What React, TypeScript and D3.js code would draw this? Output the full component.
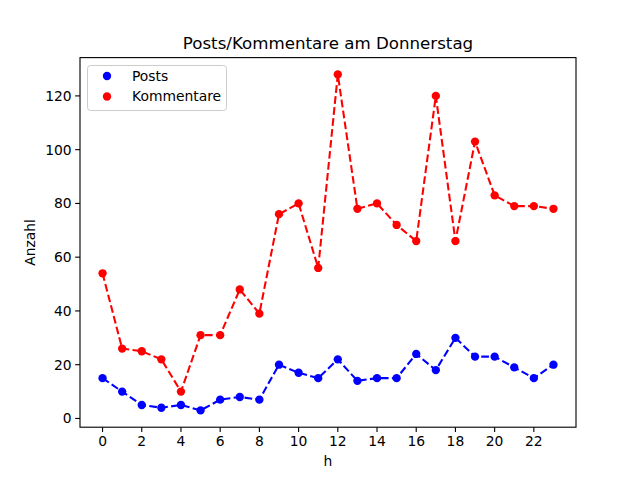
import React from "react";
import * as d3 from "d3";

const hours = d3.range(0, 24);
const posts = [15, 10, 5, 4, 5, 3, 7, 8, 7, 20, 17, 15, 22, 14, 15, 15, 24, 18, 30, 23, 23, 19, 15, 20];
const kommentare = [54, 26, 25, 22, 10, 31, 31, 48, 39, 76, 80, 56, 128, 78, 80, 72, 66, 120, 66, 103, 83, 79, 79, 78];
const xTicks = [0, 2, 4, 6, 8, 10, 12, 14, 16, 18, 20, 22];
const yTicks = [0, 20, 40, 60, 80, 100, 120];
const seriesNames = ["Posts", "Kommentare"];
const seriesColors = ["#0000ff", "#ff0000"];

export default function App() {
  const W = 640, H = 480;
  const L = 80, R = 576, T = 57.6, B = 427.2;
  const x = d3.scaleLinear().domain([-1.15, 24.15]).range([L, R]);
  const all = posts.concat(kommentare);
  const mn = d3.min(all)!, mx = d3.max(all)!;
  const pad = (mx - mn) * 0.05;
  const y = d3.scaleLinear().domain([mn - pad, mx + pad]).range([B, T]);
  const line = d3.line<number>().x((_, i) => x(hours[i])).y((d) => y(d));
  const series = [posts, kommentare];
  const font = "DejaVu Sans";
  return (
    <svg width={W} height={H} style={{ position: "absolute", left: 0, top: 0 }} fontFamily={font}>
      <rect width={W} height={H} fill="#fff" />
      {series.map((s, k) => (
        <g key={k}>
          <path d={line(s) || ""} fill="none" stroke={seriesColors[k]} strokeWidth={2.08} strokeDasharray="7.7,3.33" />
          {s.map((v, i) => (
            <circle key={i} cx={x(hours[i])} cy={y(v)} r={4.17} fill={seriesColors[k]} />
          ))}
        </g>
      ))}
      <rect x={L} y={T} width={R - L} height={B - T} fill="none" stroke="#000" strokeWidth={1.11} />
      {xTicks.map((t) => (
        <g key={t}>
          <line x1={x(t)} x2={x(t)} y1={B} y2={B + 4.86} stroke="#000" strokeWidth={1.11} />
          <text x={x(t)} y={B + 18.5} fontSize={13.89} textAnchor="middle">{t}</text>
        </g>
      ))}
      {yTicks.map((t) => (
        <g key={t}>
          <line x1={L - 4.86} x2={L} y1={y(t)} y2={y(t)} stroke="#000" strokeWidth={1.11} />
          <text x={L - 8.3} y={y(t)} dy="0.35em" fontSize={13.89} textAnchor="end">{t}</text>
        </g>
      ))}
      <text x={(L + R) / 2} y={466} fontSize={13.89} textAnchor="middle">h</text>
      <text transform={`translate(35,${(T + B) / 2}) rotate(-90)`} fontSize={13.89} textAnchor="middle">Anzahl</text>
      <text x={(L + R) / 2} y={T - 8.3} fontSize={16.67} textAnchor="middle">Posts/Kommentare am Donnerstag</text>
      <rect x={87.5} y={65.5} width={139} height={45} rx={3} fill="#fff" fillOpacity={0.8} stroke="#cccccc" strokeWidth={1} />
      {seriesNames.map((n, k) => (
        <g key={n}>
          <circle cx={107} cy={76 + k * 20.5} r={4.17} fill={seriesColors[k]} />
          <text x={132} y={76 + k * 20.5} dy="0.35em" fontSize={13.89}>{n}</text>
        </g>
      ))}
    </svg>
  );
}
